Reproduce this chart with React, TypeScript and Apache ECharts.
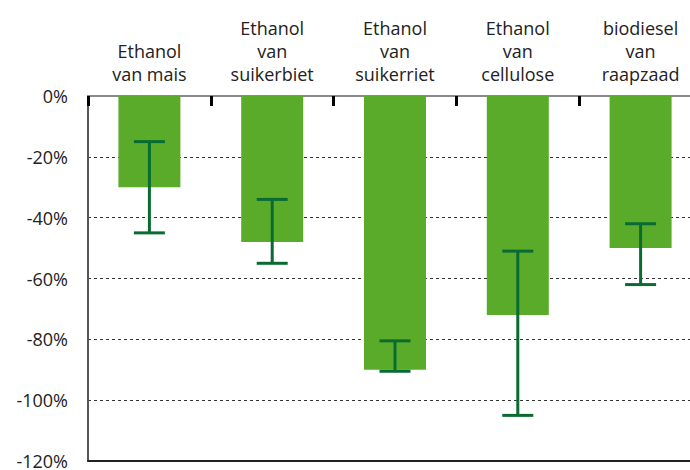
import React, { useEffect, useRef } from "react";
import * as echarts from "echarts";

const categories = [
  "Ethanol\nvan mais",
  "Ethanol\nvan\nsuikerbiet",
  "Ethanol\nvan\nsuikerriet",
  "Ethanol\nvan\ncellulose",
  "biodiesel\nvan\nraapzaad",
];
const values = [-30, -48, -90, -72, -50];
const errLow = [-45, -55, -90.5, -105, -62];
const errHigh = [-15, -34, -80.5, -51, -42];

export default function App() {
  const ref = useRef<HTMLDivElement>(null);
  useEffect(() => {
    document.body.style.margin = "0";
    document.body.style.overflow = "hidden";
    document.documentElement.style.overflow = "hidden";
    const chart = echarts.init(ref.current!, null, { renderer: "svg" });
    const font = "'Open Sans', 'DejaVu Sans', sans-serif";
    chart.setOption({
      animation: false,
      grid: { left: 88, top: 96, right: 0, height: 368 },
      xAxis: [
        {
          type: "category",
          position: "top",
          data: categories,
          axisLine: { show: true, lineStyle: { color: "#8a8a8a", width: 2 } },
          axisTick: {
            show: true,
            inside: true,
            length: 10,
            alignWithLabel: false,
            lineStyle: { color: "#000", width: 3 },
          },
          axisLabel: {
            fontSize: 18,
            color: "#222",
            lineHeight: 23,
            margin: 11,
            fontFamily: font,
            interval: 0,
          },
          splitLine: { show: false },
        },
        {
          type: "category",
          position: "bottom",
          data: categories,
          axisLine: { show: true, lineStyle: { color: "#222", width: 2 } },
          axisTick: { show: false },
          axisLabel: { show: false },
        },
      ],
      yAxis: {
        type: "value",
        min: -120,
        max: 0,
        interval: 20,
        axisLine: { show: true, lineStyle: { color: "#555", width: 2 } },
        axisTick: { show: false },
        axisLabel: {
          formatter: "{value}%",
          fontSize: 18,
          color: "#222",
          margin: 20,
          fontFamily: font,
        },
        splitLine: {
          show: true,
          lineStyle: { color: "#333", type: [3, 3], width: 1 },
        },
      },
      series: [
        {
          type: "bar",
          data: values,
          barWidth: 62,
          itemStyle: { color: "#5aab2a" },
          xAxisIndex: 0,
        },
        {
          type: "custom",
          xAxisIndex: 0,
          data: categories.map((_, i) => [i, errLow[i], errHigh[i]]),
          encode: { x: 0, y: [1, 2] },
          z: 5,
          renderItem: (params: any, api: any) => {
            const x = api.value(0);
            const lo = api.coord([x, api.value(1)]);
            const hi = api.coord([x, api.value(2)]);
            const hw = 15.5;
            const style = { stroke: "#0a6b32", lineWidth: 3 };
            return {
              type: "group",
              children: [
                { type: "line", shape: { x1: lo[0], y1: lo[1], x2: hi[0], y2: hi[1] }, style },
                { type: "line", shape: { x1: lo[0] - hw, y1: lo[1], x2: lo[0] + hw, y2: lo[1] }, style },
                { type: "line", shape: { x1: hi[0] - hw, y1: hi[1], x2: hi[0] + hw, y2: hi[1] }, style },
              ],
            };
          },
        },
      ],
    });
    return () => chart.dispose();
  }, []);
  return <div ref={ref} style={{ width: 702, height: 470 }} />;
}
